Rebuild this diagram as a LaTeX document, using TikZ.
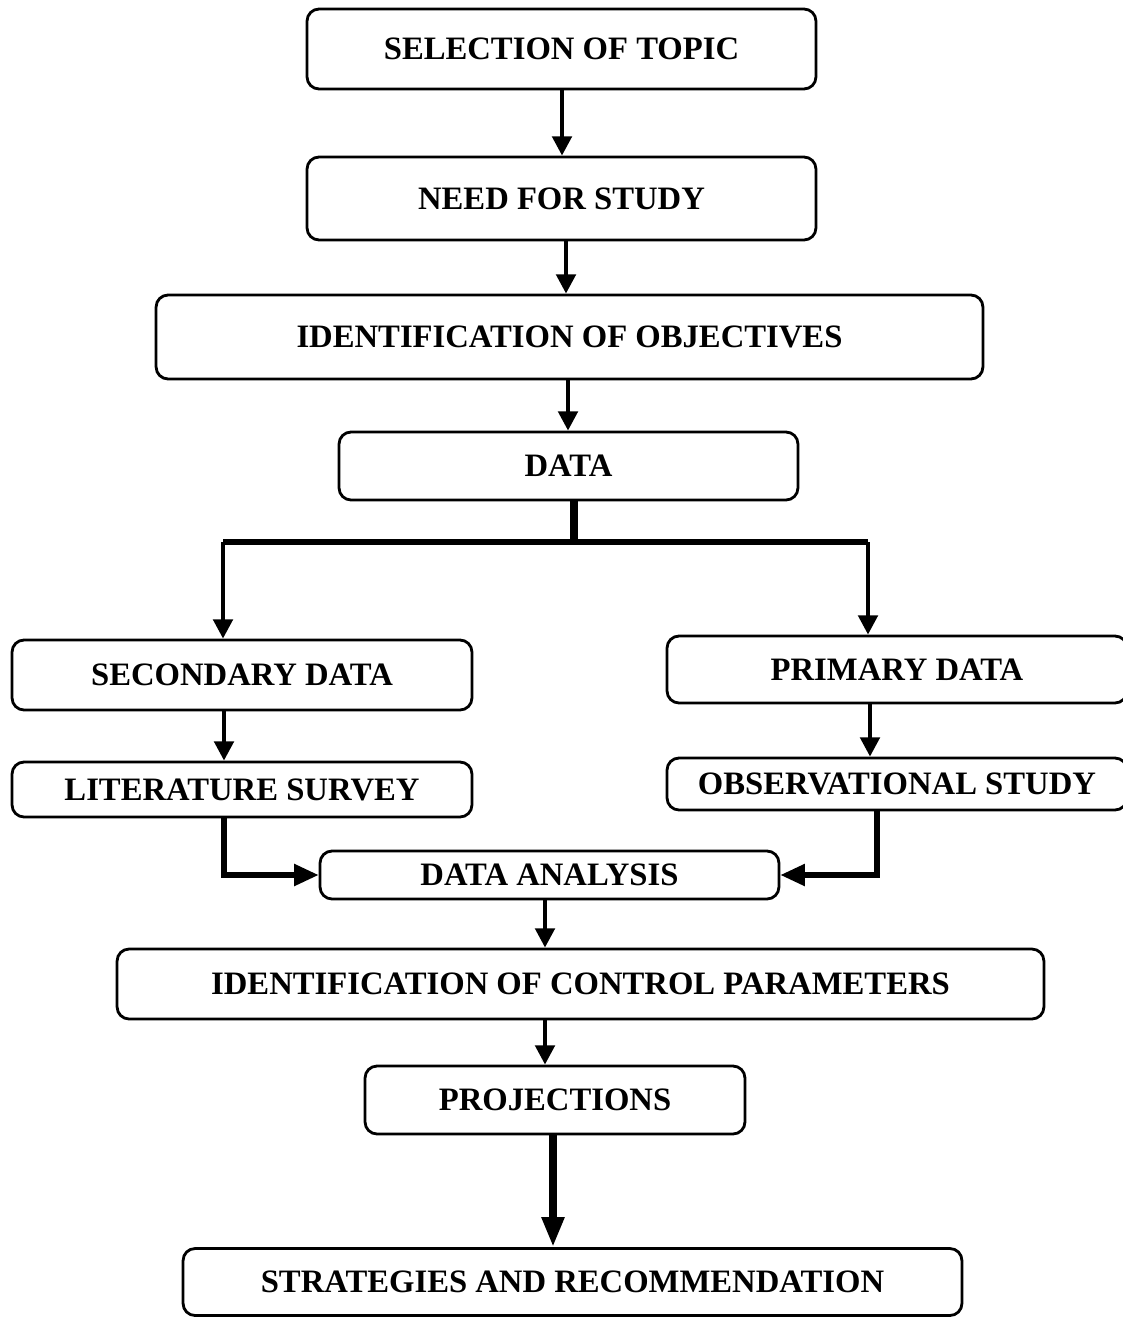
\documentclass[tikz,border=0pt]{standalone}
\usepackage{fontspec}
\setmainfont{Liberation Serif}
\usepackage{tikz}
\usetikzlibrary{arrows.meta,positioning,calc}

\begin{document}
\begin{tikzpicture}[x=0.02cm,y=-0.02cm,
	box/.style={draw,line width=1.6pt,rounded corners=0.24cm,inner sep=0pt,align=center,
		font=\fontsize{18.6}{22}\selectfont\bfseries},
	arr/.style={line width=2.4pt,-{Triangle[length=11pt,width=11pt]}},
	bigarr/.style={line width=4.6pt,-{Triangle[length=17pt,width=12pt]}},
	link/.style={line width=3pt},
	heavy/.style={line width=4.6pt}]
	\useasboundingbox (0,0) rectangle (1122,1318);
	\node[box,minimum width=10.18cm,minimum height=1.6cm] (sel) at (561.5,49) {SELECTION OF TOPIC};
	\node[box,minimum width=10.18cm,minimum height=1.66cm] (need) at (561.5,198.5) {NEED FOR STUDY};
	\node[box,minimum width=16.54cm,minimum height=1.68cm] (obj) at (569.5,337) {IDENTIFICATION OF OBJECTIVES};
	\node[box,minimum width=9.18cm,minimum height=1.36cm] (data) at (568.5,466) {DATA};
	\node[box,minimum width=9.2cm,minimum height=1.4cm] (sec) at (242,675) {SECONDARY DATA};
	\node[box,minimum width=9.2cm,minimum height=1.34cm] (prim) at (897,669.5) {PRIMARY DATA};
	\node[box,minimum width=9.2cm,minimum height=1.1cm] (lit) at (242,789.5) {LITERATURE SURVEY};
	\node[box,minimum width=9.2cm,minimum height=1.04cm] (obs) at (897,784) {OBSERVATIONAL STUDY};
	\node[box,minimum width=9.18cm,minimum height=0.96cm] (ana) at (549.5,875) {DATA ANALYSIS};
	\node[box,minimum width=18.54cm,minimum height=1.4cm] (ctrl) at (580.5,984) {IDENTIFICATION OF CONTROL PARAMETERS};
	\node[box,minimum width=7.6cm,minimum height=1.36cm] (proj) at (555,1100) {PROJECTIONS};
	\node[box,minimum width=15.58cm,minimum height=1.34cm] (strat) at (572.5,1282) {STRATEGIES AND RECOMMENDATION};
	\coordinate (s1) at (562,0);
	\coordinate (s2) at (566,0);
	\coordinate (s3) at (568,0);
	\coordinate (split) at (574,542);
	\coordinate (brL) at (223,542);
	\coordinate (brR) at (868,542);
	\coordinate (lstem) at (224,0);
	\coordinate (rstem) at (870,0);
	\coordinate (rback) at (877,0);
	\coordinate (cstem) at (545,0);
	\coordinate (pstem) at (553,0);
	\draw[arr] (sel.south -| s1) -- (need.north -| s1);
	\draw[arr] (need.south -| s2) -- (obj.north -| s2);
	\draw[arr] (obj.south -| s3) -- (data.north -| s3);
	\draw[heavy] (data.south -| split) -- (split);
	\draw[link] (brL) -- (brR);
	\draw[arr] (brL) -- (brL |- sec.north);
	\draw[arr] (brR) -- (brR |- prim.north);
	\draw[arr] (sec.south -| lstem) -- (lit.north -| lstem);
	\draw[arr] (prim.south -| rstem) -- (obs.north -| rstem);
	\draw[link,-{Triangle[length=14pt,width=12pt]}] (lit.south -| lstem) |- (ana.west);
	\draw[link,-{Triangle[length=14pt,width=12pt]}] (obs.south -| rback) |- (ana.east);
	\draw[arr] (ana.south -| cstem) -- (ctrl.north -| cstem);
	\draw[arr] (ctrl.south -| cstem) -- (proj.north -| cstem);
	\draw[bigarr] (proj.south -| pstem) -- (strat.north -| pstem);
\end{tikzpicture}
\end{document}
